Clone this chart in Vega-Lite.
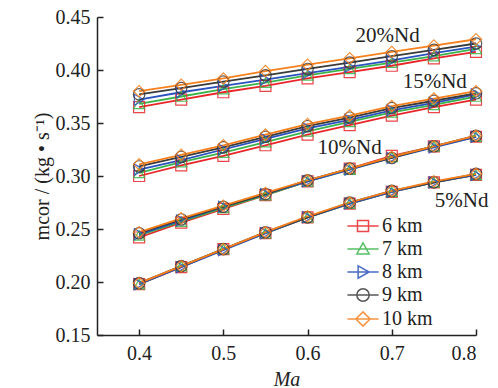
{
  "$schema": "https://vega.github.io/schema/vega-lite/v6.json",
  "width": 379,
  "height": 318,
  "autosize": {"type": "none"},
  "padding": {"left": 97, "top": 17, "right": 22, "bottom": 53},
  "background": "white",
  "config": {
    "view": {"stroke": null},
    "font": "Liberation Serif",
    "axis": {
      "grid": false,
      "domainColor": "#222",
      "domainWidth": 1.5,
      "tickColor": "#222",
      "tickWidth": 1.5,
      "tickSize": -6,
      "labelFont": "Liberation Serif",
      "labelFontSize": 20,
      "labelColor": "#222",
      "titleFont": "Liberation Serif",
      "titleFontSize": 20,
      "titleColor": "#222",
      "titleFontWeight": "normal"
    },
    "legend": {
      "labelFont": "Liberation Serif",
      "labelFontSize": 20,
      "labelColor": "#222"
    }
  },
  "datasets": {
    "ann": [
      {"x": 0.695, "y": 0.432, "t": "20%Nd"},
      {"x": 0.751, "y": 0.389, "t": "15%Nd"},
      {"x": 0.65, "y": 0.326, "t": "10%Nd"},
      {"x": 0.783, "y": 0.276, "t": "5%Nd"}
    ]
  },
  "data": {"values": [
    {"g":"20","k":"6 km","x":0.40,"y":0.365},{"g":"20","k":"6 km","x":0.45,"y":0.372},{"g":"20","k":"6 km","x":0.50,"y":0.379},{"g":"20","k":"6 km","x":0.55,"y":0.385},{"g":"20","k":"6 km","x":0.60,"y":0.392},{"g":"20","k":"6 km","x":0.65,"y":0.398},{"g":"20","k":"6 km","x":0.70,"y":0.404},{"g":"20","k":"6 km","x":0.75,"y":0.411},{"g":"20","k":"6 km","x":0.80,"y":0.417},
    {"g":"20","k":"7 km","x":0.40,"y":0.368},{"g":"20","k":"7 km","x":0.45,"y":0.375},{"g":"20","k":"7 km","x":0.50,"y":0.382},{"g":"20","k":"7 km","x":0.55,"y":0.388},{"g":"20","k":"7 km","x":0.60,"y":0.395},{"g":"20","k":"7 km","x":0.65,"y":0.401},{"g":"20","k":"7 km","x":0.70,"y":0.407},{"g":"20","k":"7 km","x":0.75,"y":0.413},{"g":"20","k":"7 km","x":0.80,"y":0.420},
    {"g":"20","k":"8 km","x":0.40,"y":0.372},{"g":"20","k":"8 km","x":0.45,"y":0.379},{"g":"20","k":"8 km","x":0.50,"y":0.385},{"g":"20","k":"8 km","x":0.55,"y":0.391},{"g":"20","k":"8 km","x":0.60,"y":0.397},{"g":"20","k":"8 km","x":0.65,"y":0.403},{"g":"20","k":"8 km","x":0.70,"y":0.409},{"g":"20","k":"8 km","x":0.75,"y":0.416},{"g":"20","k":"8 km","x":0.80,"y":0.422},
    {"g":"20","k":"9 km","x":0.40,"y":0.377},{"g":"20","k":"9 km","x":0.45,"y":0.383},{"g":"20","k":"9 km","x":0.50,"y":0.389},{"g":"20","k":"9 km","x":0.55,"y":0.395},{"g":"20","k":"9 km","x":0.60,"y":0.401},{"g":"20","k":"9 km","x":0.65,"y":0.407},{"g":"20","k":"9 km","x":0.70,"y":0.413},{"g":"20","k":"9 km","x":0.75,"y":0.419},{"g":"20","k":"9 km","x":0.80,"y":0.425},
    {"g":"20","k":"10 km","x":0.40,"y":0.380},{"g":"20","k":"10 km","x":0.45,"y":0.386},{"g":"20","k":"10 km","x":0.50,"y":0.392},{"g":"20","k":"10 km","x":0.55,"y":0.399},{"g":"20","k":"10 km","x":0.60,"y":0.405},{"g":"20","k":"10 km","x":0.65,"y":0.411},{"g":"20","k":"10 km","x":0.70,"y":0.417},{"g":"20","k":"10 km","x":0.75,"y":0.423},{"g":"20","k":"10 km","x":0.80,"y":0.429},
    {"g":"15","k":"6 km","x":0.40,"y":0.300},{"g":"15","k":"6 km","x":0.45,"y":0.310},{"g":"15","k":"6 km","x":0.50,"y":0.319},{"g":"15","k":"6 km","x":0.55,"y":0.329},{"g":"15","k":"6 km","x":0.60,"y":0.339},{"g":"15","k":"6 km","x":0.65,"y":0.348},{"g":"15","k":"6 km","x":0.70,"y":0.357},{"g":"15","k":"6 km","x":0.75,"y":0.365},{"g":"15","k":"6 km","x":0.80,"y":0.372},
    {"g":"15","k":"7 km","x":0.40,"y":0.303},{"g":"15","k":"7 km","x":0.45,"y":0.313},{"g":"15","k":"7 km","x":0.50,"y":0.322},{"g":"15","k":"7 km","x":0.55,"y":0.332},{"g":"15","k":"7 km","x":0.60,"y":0.342},{"g":"15","k":"7 km","x":0.65,"y":0.351},{"g":"15","k":"7 km","x":0.70,"y":0.360},{"g":"15","k":"7 km","x":0.75,"y":0.367},{"g":"15","k":"7 km","x":0.80,"y":0.375},
    {"g":"15","k":"8 km","x":0.40,"y":0.306},{"g":"15","k":"8 km","x":0.45,"y":0.315},{"g":"15","k":"8 km","x":0.50,"y":0.325},{"g":"15","k":"8 km","x":0.55,"y":0.335},{"g":"15","k":"8 km","x":0.60,"y":0.345},{"g":"15","k":"8 km","x":0.65,"y":0.353},{"g":"15","k":"8 km","x":0.70,"y":0.362},{"g":"15","k":"8 km","x":0.75,"y":0.369},{"g":"15","k":"8 km","x":0.80,"y":0.377},
    {"g":"15","k":"9 km","x":0.40,"y":0.309},{"g":"15","k":"9 km","x":0.45,"y":0.318},{"g":"15","k":"9 km","x":0.50,"y":0.327},{"g":"15","k":"9 km","x":0.55,"y":0.337},{"g":"15","k":"9 km","x":0.60,"y":0.347},{"g":"15","k":"9 km","x":0.65,"y":0.355},{"g":"15","k":"9 km","x":0.70,"y":0.364},{"g":"15","k":"9 km","x":0.75,"y":0.371},{"g":"15","k":"9 km","x":0.80,"y":0.378},
    {"g":"15","k":"10 km","x":0.40,"y":0.311},{"g":"15","k":"10 km","x":0.45,"y":0.320},{"g":"15","k":"10 km","x":0.50,"y":0.329},{"g":"15","k":"10 km","x":0.55,"y":0.339},{"g":"15","k":"10 km","x":0.60,"y":0.349},{"g":"15","k":"10 km","x":0.65,"y":0.357},{"g":"15","k":"10 km","x":0.70,"y":0.366},{"g":"15","k":"10 km","x":0.75,"y":0.373},{"g":"15","k":"10 km","x":0.80,"y":0.380},
    {"g":"10","k":"6 km","x":0.40,"y":0.242},{"g":"10","k":"6 km","x":0.45,"y":0.256},{"g":"10","k":"6 km","x":0.50,"y":0.269},{"g":"10","k":"6 km","x":0.55,"y":0.282},{"g":"10","k":"6 km","x":0.60,"y":0.295},{"g":"10","k":"6 km","x":0.65,"y":0.307},{"g":"10","k":"6 km","x":0.70,"y":0.319},{"g":"10","k":"6 km","x":0.75,"y":0.328},{"g":"10","k":"6 km","x":0.80,"y":0.337},
    {"g":"10","k":"7 km","x":0.40,"y":0.244},{"g":"10","k":"7 km","x":0.45,"y":0.257},{"g":"10","k":"7 km","x":0.50,"y":0.270},{"g":"10","k":"7 km","x":0.55,"y":0.282},{"g":"10","k":"7 km","x":0.60,"y":0.295},{"g":"10","k":"7 km","x":0.65,"y":0.306},{"g":"10","k":"7 km","x":0.70,"y":0.318},{"g":"10","k":"7 km","x":0.75,"y":0.328},{"g":"10","k":"7 km","x":0.80,"y":0.337},
    {"g":"10","k":"8 km","x":0.40,"y":0.245},{"g":"10","k":"8 km","x":0.45,"y":0.258},{"g":"10","k":"8 km","x":0.50,"y":0.271},{"g":"10","k":"8 km","x":0.55,"y":0.283},{"g":"10","k":"8 km","x":0.60,"y":0.295},{"g":"10","k":"8 km","x":0.65,"y":0.306},{"g":"10","k":"8 km","x":0.70,"y":0.317},{"g":"10","k":"8 km","x":0.75,"y":0.327},{"g":"10","k":"8 km","x":0.80,"y":0.337},
    {"g":"10","k":"9 km","x":0.40,"y":0.246},{"g":"10","k":"9 km","x":0.45,"y":0.259},{"g":"10","k":"9 km","x":0.50,"y":0.271},{"g":"10","k":"9 km","x":0.55,"y":0.283},{"g":"10","k":"9 km","x":0.60,"y":0.296},{"g":"10","k":"9 km","x":0.65,"y":0.307},{"g":"10","k":"9 km","x":0.70,"y":0.317},{"g":"10","k":"9 km","x":0.75,"y":0.328},{"g":"10","k":"9 km","x":0.80,"y":0.338},
    {"g":"10","k":"10 km","x":0.40,"y":0.247},{"g":"10","k":"10 km","x":0.45,"y":0.260},{"g":"10","k":"10 km","x":0.50,"y":0.272},{"g":"10","k":"10 km","x":0.55,"y":0.284},{"g":"10","k":"10 km","x":0.60,"y":0.296},{"g":"10","k":"10 km","x":0.65,"y":0.307},{"g":"10","k":"10 km","x":0.70,"y":0.318},{"g":"10","k":"10 km","x":0.75,"y":0.328},{"g":"10","k":"10 km","x":0.80,"y":0.338},
    {"g":"5","k":"6 km","x":0.40,"y":0.198},{"g":"5","k":"6 km","x":0.45,"y":0.214},{"g":"5","k":"6 km","x":0.50,"y":0.231},{"g":"5","k":"6 km","x":0.55,"y":0.246},{"g":"5","k":"6 km","x":0.60,"y":0.261},{"g":"5","k":"6 km","x":0.65,"y":0.274},{"g":"5","k":"6 km","x":0.70,"y":0.285},{"g":"5","k":"6 km","x":0.75,"y":0.294},{"g":"5","k":"6 km","x":0.80,"y":0.301},
    {"g":"5","k":"7 km","x":0.40,"y":0.198},{"g":"5","k":"7 km","x":0.45,"y":0.215},{"g":"5","k":"7 km","x":0.50,"y":0.231},{"g":"5","k":"7 km","x":0.55,"y":0.246},{"g":"5","k":"7 km","x":0.60,"y":0.261},{"g":"5","k":"7 km","x":0.65,"y":0.274},{"g":"5","k":"7 km","x":0.70,"y":0.285},{"g":"5","k":"7 km","x":0.75,"y":0.294},{"g":"5","k":"7 km","x":0.80,"y":0.301},
    {"g":"5","k":"8 km","x":0.40,"y":0.198},{"g":"5","k":"8 km","x":0.45,"y":0.214},{"g":"5","k":"8 km","x":0.50,"y":0.230},{"g":"5","k":"8 km","x":0.55,"y":0.246},{"g":"5","k":"8 km","x":0.60,"y":0.261},{"g":"5","k":"8 km","x":0.65,"y":0.274},{"g":"5","k":"8 km","x":0.70,"y":0.285},{"g":"5","k":"8 km","x":0.75,"y":0.294},{"g":"5","k":"8 km","x":0.80,"y":0.301},
    {"g":"5","k":"9 km","x":0.40,"y":0.199},{"g":"5","k":"9 km","x":0.45,"y":0.215},{"g":"5","k":"9 km","x":0.50,"y":0.231},{"g":"5","k":"9 km","x":0.55,"y":0.247},{"g":"5","k":"9 km","x":0.60,"y":0.261},{"g":"5","k":"9 km","x":0.65,"y":0.275},{"g":"5","k":"9 km","x":0.70,"y":0.286},{"g":"5","k":"9 km","x":0.75,"y":0.294},{"g":"5","k":"9 km","x":0.80,"y":0.302},
    {"g":"5","k":"10 km","x":0.40,"y":0.199},{"g":"5","k":"10 km","x":0.45,"y":0.215},{"g":"5","k":"10 km","x":0.50,"y":0.231},{"g":"5","k":"10 km","x":0.55,"y":0.247},{"g":"5","k":"10 km","x":0.60,"y":0.262},{"g":"5","k":"10 km","x":0.65,"y":0.275},{"g":"5","k":"10 km","x":0.70,"y":0.286},{"g":"5","k":"10 km","x":0.75,"y":0.295},{"g":"5","k":"10 km","x":0.80,"y":0.302}
  ]},
  "encoding": {
    "x": {"field": "x", "type": "quantitative", "title": "Ma",
      "scale": {"domain": [0.35, 0.8], "nice": false, "zero": false},
      "axis": {"values": [0.4, 0.5, 0.6, 0.7, 0.8], "format": ".1f", "labelPadding": 14, "titleFontStyle": "italic", "titlePadding": 6}},
    "y": {"field": "y", "type": "quantitative", "title": "mcor / (kg • s⁻¹)",
      "scale": {"domain": [0.15, 0.45], "nice": false, "zero": false},
      "axis": {"values": [0.15, 0.2, 0.25, 0.3, 0.35, 0.4, 0.45], "format": ".2f", "labelPadding": 13, "titlePadding": 3}},
    "color": {"field": "k", "type": "nominal",
      "scale": {"domain": ["6 km", "7 km", "8 km", "9 km", "10 km"], "range": ["#e8262a", "#3cb44b", "#2a52be", "#3a3a3a", "#f7801e"]},
      "legend": {
        "title": null, "orient": "none", "legendX": 256, "legendY": 199,
        "padding": 0, "rowPadding": 3, "symbolSize": 169, "symbolStrokeWidth": 1.5,
        "labelOffset": 9
      }}
  },
  "layer": [
    {
      "mark": {"type": "line", "strokeWidth": 1.8, "clip": false},
      "encoding": {"detail": {"field": "g"}}
    },
    {
      "transform": [{"filter": {"field": "k", "equal": "6 km"}}],
      "mark": {"type": "point", "filled": false, "shape": "square", "size": 120, "strokeWidth": 1.2, "opacity": 0.85, "clip": false},
      "encoding": {}
    },
    {
      "transform": [{"filter": {"field": "k", "equal": "7 km"}}],
      "mark": {"type": "point", "filled": false, "shape": "triangle-up", "size": 120, "strokeWidth": 1.2, "opacity": 0.85, "clip": false},
      "encoding": {}
    },
    {
      "transform": [{"filter": {"field": "k", "equal": "8 km"}}],
      "mark": {"type": "point", "filled": false, "shape": "triangle-right", "size": 120, "strokeWidth": 1.2, "opacity": 0.85, "clip": false},
      "encoding": {}
    },
    {
      "transform": [{"filter": {"field": "k", "equal": "9 km"}}],
      "mark": {"type": "point", "filled": false, "shape": "circle", "size": 130, "strokeWidth": 1.2, "opacity": 0.85, "clip": false},
      "encoding": {}
    },
    {
      "transform": [{"filter": {"field": "k", "equal": "10 km"}}],
      "mark": {"type": "point", "filled": false, "shape": "diamond", "size": 130, "strokeWidth": 1.2, "opacity": 0.85, "clip": false},
      "encoding": {}
    },
    {
      "transform": [{"filter": {"field": "x", "gt": 1}}],
      "mark": {"type": "point", "filled": false, "size": 169, "strokeWidth": 1.5},
      "encoding": {
        "shape": {"field": "k", "type": "nominal",
          "scale": {"domain": ["6 km", "7 km", "8 km", "9 km", "10 km"], "range": [
            "M-2.4,0H2.4M-0.85,-0.85H0.85V0.85H-0.85Z",
            "M-2.4,0H2.4M0,-0.95L0.95,0.75H-0.95Z",
            "M-2.4,0H2.4M-0.75,-0.95L0.95,0L-0.75,0.95Z",
            "M-2.4,0H2.4M-0.95,0A0.95,0.95,0,1,0,0.95,0A0.95,0.95,0,1,0,-0.95,0Z",
            "M-2.4,0H2.4M0,-1.1L1.1,0L0,1.1L-1.1,0Z"]},
          "legend": {
            "title": null, "orient": "none", "legendX": 256, "legendY": 199,
            "padding": 0, "rowPadding": 3, "symbolSize": 169, "symbolStrokeWidth": 1.5,
            "labelOffset": 9
          }}
      }
    },
    {
      "data": {"name": "ann"},
      "mark": {"type": "text", "font": "Liberation Serif", "fontSize": 21, "color": "#222", "align": "center", "baseline": "middle"},
      "encoding": {"text": {"field": "t"}, "color": {"value": "#222"}}
    }
  ]
}
